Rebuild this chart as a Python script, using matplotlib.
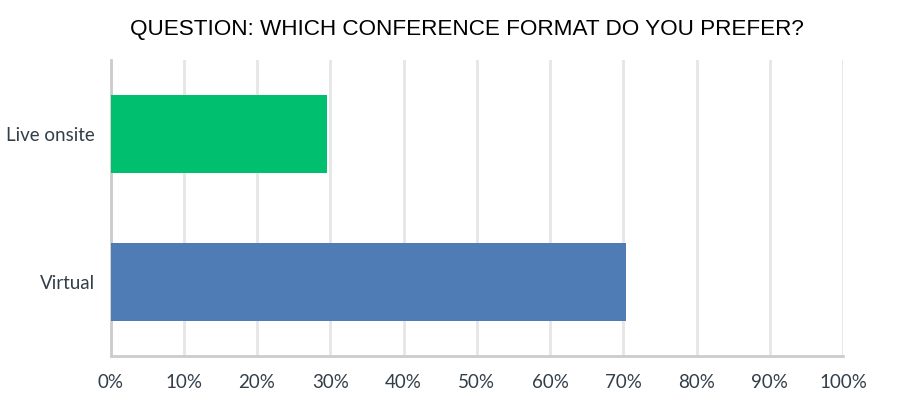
import matplotlib
matplotlib.use('Agg')
import matplotlib.pyplot as plt
from matplotlib.ticker import FuncFormatter

# 数据
categories = ['Virtual', 'Live onsite']
shares = [70.4, 29.6]
bar_colors = ['#507cb6', '#00bf6f']
ticks = list(range(0, 101, 10))

fig = plt.figure(figsize=(8.97, 4.0), dpi=100)
ax = fig.add_axes([0.1232, 0.11, 0.8166, 0.74])

ax.barh(categories, shares, height=0.53, color=bar_colors, zorder=3)

ax.set_xlim(0, 100)
ax.set_ylim(-0.5, 1.5)
ax.set_xticks(ticks)
ax.xaxis.set_major_formatter(FuncFormatter(lambda v, p: f'{int(v)}%'))

# 网格和坐标轴
ax.grid(axis='x', color='#e6e6e6', linewidth=2, zorder=0)
for s in ['top', 'right']:
    ax.spines[s].set_visible(False)
for s in ['left', 'bottom']:
    ax.spines[s].set_color('#cccccc')
    ax.spines[s].set_linewidth(2)
ax.tick_params(length=0, pad=13, labelsize=13.5, colors='#333e48')
ax.tick_params(axis='y', pad=11)
for lab in ax.get_xticklabels() + ax.get_yticklabels():
    lab.set_family('Lato')

fig.text(0.521, 0.925, 'QUESTION: WHICH CONFERENCE FORMAT DO YOU PREFER?',
         ha='center', va='center', fontsize=16.2, family='Liberation Sans',
         color='black')

fig.savefig('out.png', dpi=100)
